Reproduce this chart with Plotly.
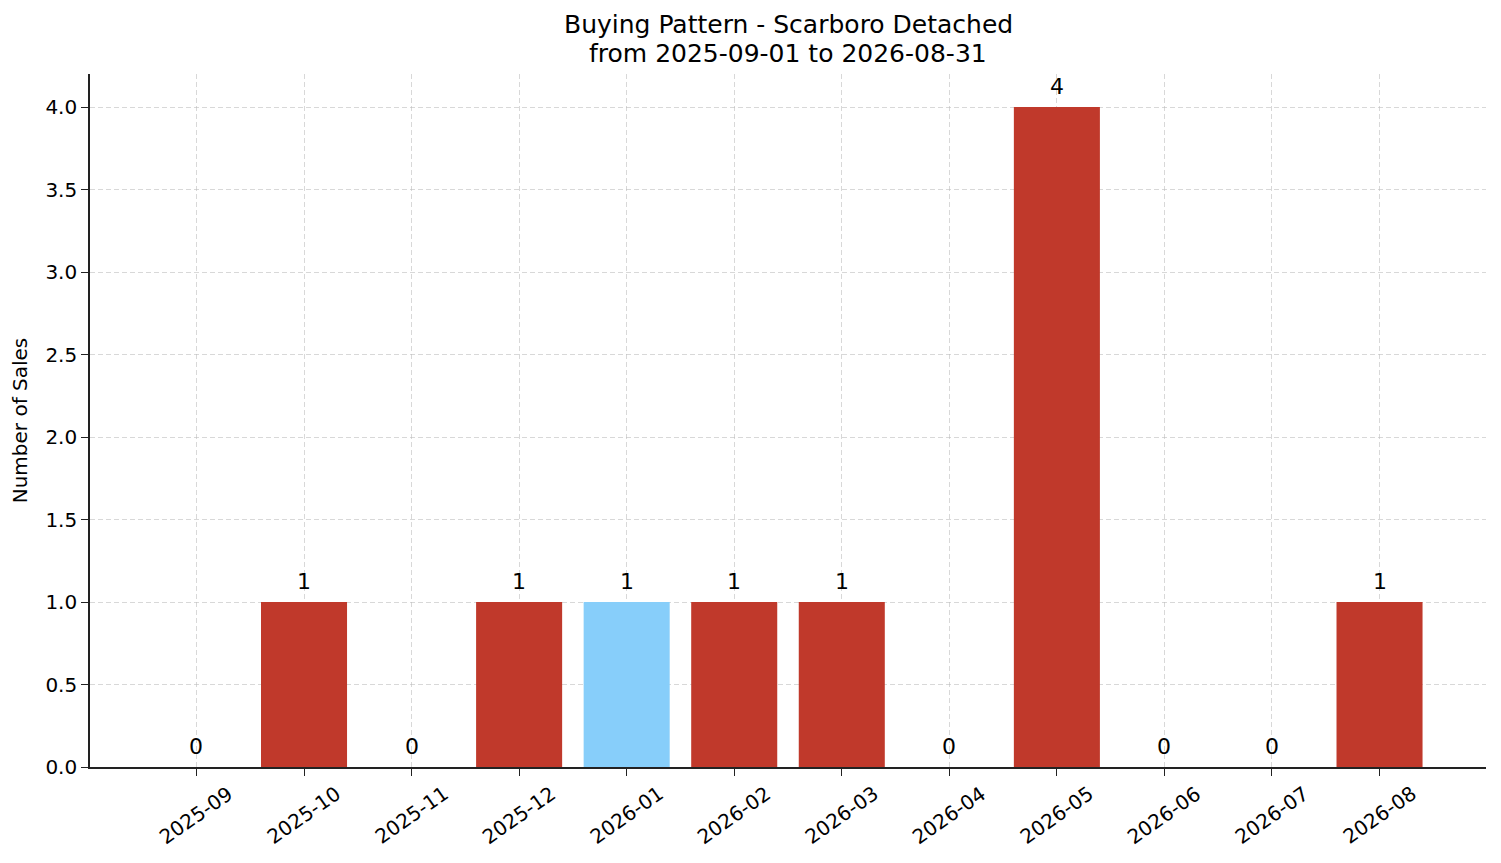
import plotly.graph_objects as go

# Monthly sales counts
months = ["2025-09", "2025-10", "2025-11", "2025-12", "2026-01", "2026-02",
          "2026-03", "2026-04", "2026-05", "2026-06", "2026-07", "2026-08"]
sales = [0, 1, 0, 1, 1, 1, 1, 0, 4, 0, 0, 1]
highlight_month = "2026-01"
title_lines = ["Buying Pattern - Scarboro Detached", "from 2025-09-01 to 2026-08-31"]

RED = "#c0392b"
BLUE = "#87cefa"
FONT = "DejaVu Sans"

x_idx = list(range(len(months)))
colors = [BLUE if m == highlight_month else RED for m in months]

fig = go.Figure()

fig.add_trace(go.Bar(
    x=x_idx,
    y=sales,
    width=0.8,
    marker=dict(color=colors, line=dict(width=0)),
    showlegend=False,
    hoverinfo="skip",
))

# value labels above each bar
for i, v in zip(x_idx, sales):
    fig.add_annotation(
        x=i, y=v, text=str(v), showarrow=False,
        xanchor="center", yanchor="bottom", yshift=6,
        font=dict(size=22, color="black", family=FONT),
    )

# rotated month labels, centred under the ticks (matplotlib style)
for i, m in zip(x_idx, months):
    fig.add_annotation(
        x=i, xref="x", y=0, yref="paper", text=m, showarrow=False,
        textangle=-35, xanchor="center", yanchor="middle", yshift=-48,
        font=dict(size=20, color="black", family=FONT),
    )

# two-line title
for line, ypos in zip(title_lines, [1.072, 1.030]):
    fig.add_annotation(
        x=0.5, xref="paper", y=ypos, yref="paper", text=line, showarrow=False,
        xanchor="center", yanchor="middle",
        font=dict(size=25, color="black", family=FONT),
    )

grid = dict(showgrid=True, gridcolor="rgba(190,190,190,0.6)", gridwidth=1, griddash="5px,3px")

# page body has an 8px margin, so the figure is sized to fit inside it
fig.update_layout(
    width=1485,
    height=847,
    plot_bgcolor="white",
    paper_bgcolor="white",
    font=dict(family=FONT, size=20, color="black"),
    margin=dict(l=82, r=7, t=66, b=88),
    xaxis=dict(
        tickmode="array", tickvals=x_idx, ticktext=months, showticklabels=False,
        range=[-0.99, 11.99],
        ticks="outside", ticklen=7, tickwidth=1.3, tickcolor="#222",
        showline=True, linecolor="#222", linewidth=1.6,
        zeroline=False, layer="above traces", automargin=False,
        **grid,
    ),
    yaxis=dict(
        range=[0, 4.2], tickvals=[0, 0.5, 1, 1.5, 2, 2.5, 3, 3.5, 4],
        ticktext=["0.0", "0.5", "1.0", "1.5", "2.0", "2.5", "3.0", "3.5", "4.0"],
        ticks="outside", ticklen=7, tickwidth=1.3, tickcolor="#222",
        showline=True, linecolor="#222", linewidth=1.6,
        zeroline=False, layer="above traces", automargin=False,
        tickfont=dict(size=20),
        title=dict(text="Number of Sales", font=dict(size=20), standoff=12),
        **grid,
    ),
)

fig.write_html("out.html")
